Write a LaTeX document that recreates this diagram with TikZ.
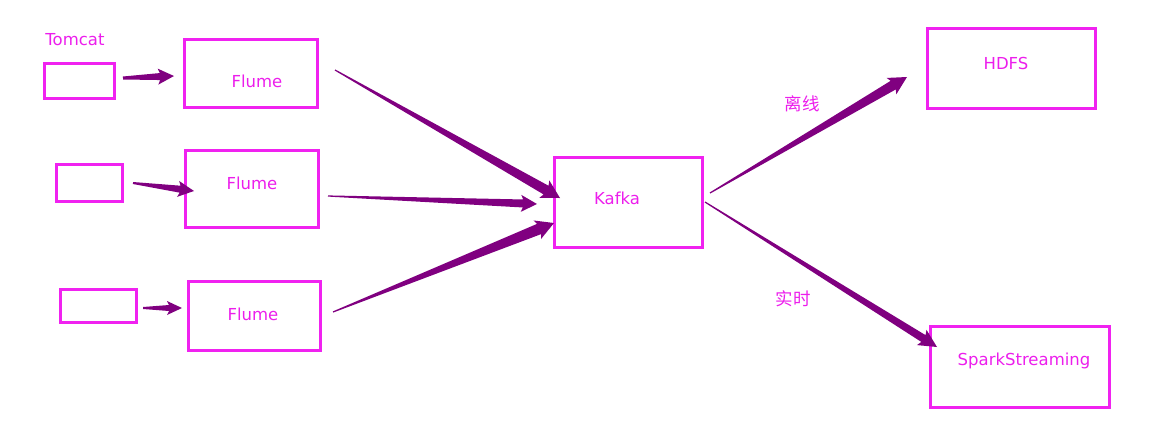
\documentclass[tikz,border=0pt]{standalone}
\usepackage{fontspec}
\setmainfont{DejaVu Sans}
\newfontfamily\cjk{Noto Sans CJK SC}
\usetikzlibrary{calc}
\definecolor{boxcol}{RGB}{240,34,240}
\definecolor{txtcol}{RGB}{236,30,236}
\definecolor{arrcol}{RGB}{128,0,128}
\tikzset{
  box/.style={draw=boxcol, line width=3pt, inner sep=0pt, fill=none},
  lbl/.style={text=txtcol, font=\fontsize{16.5}{18}\selectfont, inner sep=0pt},
  cjklbl/.style={text=txtcol, font=\cjk\fontsize{17.5}{19}\selectfont, inner sep=0pt},
}
% #1 start, #2 tip, #3 start half-width, #4 shaft half-width at head, #5 head half-width, #6 head length
\newcommand\taperarrow[6]{%
  \path ($(#2)!#6!(#1)$) coordinate (tb);
  \path ($(#2)!#6+2pt!(#1)$) coordinate (tbb);
  \fill[arrcol] ($(#1)!#3!90:(#2)$) -- ($(tb)!#4!90:(#2)$) -- ($(tbb)!#5!90:(#2)$) -- (#2)
     -- ($(tbb)!#5!-90:(#2)$) -- ($(tb)!#4!-90:(#2)$) -- ($(#1)!#3!-90:(#2)$) -- cycle;}
\begin{document}
\begin{tikzpicture}[x=1pt,y=-1pt]
\useasboundingbox (0,0) rectangle (1165,429);
% boxes
\node[box, minimum width=70pt, minimum height=35pt] (src1) at (79.5,81) {};
\node[box, minimum width=133pt, minimum height=68pt] (flume1) at (251,73.5) {};
\node[box, minimum width=66pt, minimum height=37pt] (src2) at (89.5,183) {};
\node[box, minimum width=133pt, minimum height=77pt] (flume2) at (252,189) {};
\node[box, minimum width=76pt, minimum height=33pt] (src3) at (98.5,306) {};
\node[box, minimum width=132pt, minimum height=69pt] (flume3) at (254.5,316) {};
\node[box, minimum width=148pt, minimum height=90pt] (kafka) at (628.5,202.5) {};
\node[box, minimum width=168pt, minimum height=80pt] (hdfs) at (1011.5,68.5) {};
\node[box, minimum width=179pt, minimum height=81pt] (spark) at (1020,367) {};
% texts
\node[lbl] (tomcat) at (75,40) {Tomcat};
\node[lbl] (flume1t) at (257,81) {Flume};
\node[lbl] (flume2t) at (252,183) {Flume};
\node[lbl] (flume3t) at (253,314) {Flume};
\node[lbl] (kafkat) at (617,198) {Kafka};
\node[lbl] (hdfst) at (1006,63) {HDFS};
\node[lbl] (sparkt) at (1024,361) {SparkStreaming};
\node[cjklbl] (offline) at (802,104) {离线};
\node[cjklbl] (realtime) at (793,299) {实时};
% arrow end points
\coordinate (a1s) at (123,78);  \coordinate (a1e) at (174,76);
\coordinate (a2s) at (133,183); \coordinate (a2e) at (194,191);
\coordinate (a3s) at (143,308); \coordinate (a3e) at (182,308);
\coordinate (a4s) at (335,70);  \coordinate (a4e) at (560,198);
\coordinate (a5s) at (328,196); \coordinate (a5e) at (537,204);
\coordinate (a6s) at (333,312); \coordinate (a6e) at (554,223);
\coordinate (a7s) at (710,193); \coordinate (a7e) at (907,77);
\coordinate (a8s) at (705,202); \coordinate (a8e) at (937,347);
% arrows
\taperarrow{a1s}{a1e}{1.5pt}{3.5pt}{8pt}{14pt}
\taperarrow{a2s}{a2e}{1pt}{3.5pt}{8pt}{14pt}
\taperarrow{a3s}{a3e}{1pt}{3pt}{7pt}{13pt}
\taperarrow{a4s}{a4e}{0.6pt}{5pt}{10pt}{16pt}
\taperarrow{a5s}{a5e}{0.6pt}{4pt}{8.5pt}{14pt}
\taperarrow{a6s}{a6e}{0.6pt}{5.5pt}{10pt}{16pt}
\taperarrow{a7s}{a7e}{0.6pt}{5pt}{9.5pt}{16pt}
\taperarrow{a8s}{a8e}{0.6pt}{4pt}{9pt}{16pt}
\end{tikzpicture}
\end{document}
